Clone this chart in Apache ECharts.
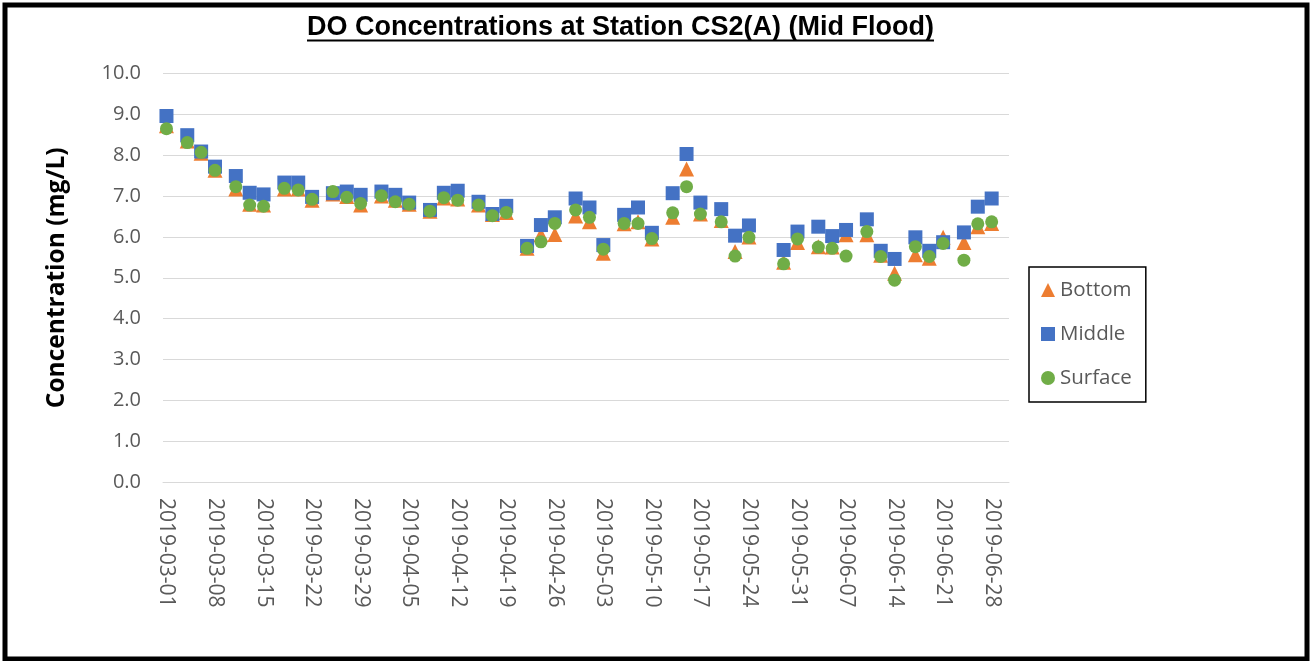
<!DOCTYPE html>
<html>
<head>
<meta charset="utf-8">
<script src="https://cdn.jsdelivr.net/npm/echarts@6/dist/echarts.min.js"></script>
<style>
html,body{margin:0;padding:0;background:#fff;}
#chart{width:1312px;height:661px;}
</style>
</head>
<body>
<div id="chart"></div>
<script>
const titleText = 'DO Concentrations at Station CS2(A) (Mid Flood)';
const yAxisTitle = 'Concentration (mg/L)';
const seriesNames = ['Bottom', 'Middle', 'Surface'];
const axisStart = '2019-03-01';
const axisEnd = '2019-06-30';
const tickLabels = ['2019-03-01','2019-03-08','2019-03-15','2019-03-22','2019-03-29','2019-04-05','2019-04-12','2019-04-19','2019-04-26','2019-05-03','2019-05-10','2019-05-17','2019-05-24','2019-05-31','2019-06-07','2019-06-14','2019-06-21','2019-06-28'];
const dates = ['2019-03-01','2019-03-04','2019-03-06','2019-03-08','2019-03-11','2019-03-13','2019-03-15','2019-03-18','2019-03-20','2019-03-22','2019-03-25','2019-03-27','2019-03-29','2019-04-01','2019-04-03','2019-04-05','2019-04-08','2019-04-10','2019-04-12','2019-04-15','2019-04-17','2019-04-19','2019-04-22','2019-04-24','2019-04-26','2019-04-29','2019-05-01','2019-05-03','2019-05-06','2019-05-08','2019-05-10','2019-05-13','2019-05-15','2019-05-17','2019-05-20','2019-05-22','2019-05-24','2019-05-29','2019-05-31','2019-06-03','2019-06-05','2019-06-07','2019-06-10','2019-06-12','2019-06-14','2019-06-17','2019-06-19','2019-06-21','2019-06-24','2019-06-26','2019-06-28'];
const bottom = [8.72,8.35,8.05,7.63,7.17,6.80,6.78,7.17,7.17,6.90,7.05,6.99,6.78,7.00,6.90,6.80,6.63,6.95,6.93,6.78,6.55,6.60,5.72,6.05,6.06,6.51,6.37,5.60,6.32,6.37,5.95,6.48,7.66,6.56,6.40,5.64,6.00,5.38,5.86,5.76,5.75,6.05,6.05,5.55,5.11,5.56,5.48,5.99,5.86,6.25,6.33];
const middle = [8.96,8.49,8.09,7.72,7.49,7.08,7.04,7.33,7.33,6.98,7.07,7.11,7.03,7.11,7.03,6.84,6.66,7.08,7.13,6.86,6.56,6.76,5.78,6.29,6.48,6.94,6.72,5.80,6.54,6.72,6.10,7.07,8.03,6.84,6.68,6.03,6.28,5.68,6.13,6.25,6.02,6.17,6.43,5.66,5.46,5.99,5.66,5.87,6.11,6.74,6.94];
const surface = [8.65,8.31,8.07,7.63,7.23,6.78,6.75,7.19,7.15,6.92,7.11,6.97,6.82,7.01,6.86,6.80,6.63,6.96,6.90,6.78,6.52,6.60,5.72,5.88,6.33,6.66,6.48,5.70,6.33,6.33,5.96,6.59,7.23,6.56,6.37,5.53,5.99,5.34,5.95,5.75,5.72,5.53,6.13,5.52,4.94,5.76,5.52,5.84,5.43,6.32,6.37];

// daily category axis (one slot per day, like a date axis)
const categories = [];
(function(){
  let d = new Date(axisStart + 'T00:00:00Z');
  const end = new Date(axisEnd + 'T00:00:00Z');
  while (d <= end) {
    categories.push(d.toISOString().slice(0,10));
    d = new Date(d.getTime() + 86400000);
  }
})();

const titleFont = 'bold 27px "Liberation Sans", Arial, sans-serif';
const cvs = document.createElement('canvas').getContext('2d');
cvs.font = titleFont;
const titleW = cvs.measureText(titleText).width;
const titleCx = 620.5;

const chart = echarts.init(document.getElementById('chart'), null, {renderer:'canvas'});
const labelFont = '"Open Sans", sans-serif';
const mk = (name, arr, symbol, color, size) => ({
  name, type:'scatter', symbol, symbolSize:size,
  itemStyle:{color, opacity:1},
  data: dates.map((d,i)=>[d, arr[i]]),
  emphasis:{disabled:true}, animation:false
});
chart.setOption({
  animation:false,
  backgroundColor:'#fff',
  grid:{left:163, right:303, top:73.5, bottom:179, containLabel:false},
  xAxis:{
    type:'category', data:categories, boundaryGap:true,
    axisLine:{show:true, lineStyle:{color:'#d9d9d9', width:1}},
    axisTick:{show:false},
    splitLine:{show:false},
    axisLabel:{
      interval:(idx,val)=>tickLabels.includes(val),
      rotate:-90, margin:16, color:'#595959', fontSize:21, fontFamily:labelFont
    }
  },
  yAxis:{
    type:'value', min:0, max:10, interval:1,
    axisLine:{show:false}, axisTick:{show:false},
    splitLine:{lineStyle:{color:'#d9d9d9', width:1}},
    axisLabel:{formatter:v=>v.toFixed(1), margin:22, color:'#595959', fontSize:20, fontFamily:labelFont},
    name:yAxisTitle, nameLocation:'middle', nameGap:93, nameRotate:90,
    nameTextStyle:{fontSize:24.5, fontWeight:'bold', color:'#000', fontFamily:labelFont}
  },
  legend:{
    orient:'vertical', left:1029, top:267,
    data:[{name:'Bottom', icon:'triangle'},{name:'Middle', icon:'rect'},{name:'Surface', icon:'circle'}],
    itemWidth:14, itemHeight:14, itemGap:20,
    padding:[11,14,12,12],
    borderColor:'#000', borderWidth:1.5,
    textStyle:{color:'#595959', fontSize:20.5, fontFamily:labelFont, lineHeight:24},
    selectedMode:false
  },
  graphic:[
    {type:'rect', shape:{x:5, y:5, width:1302, height:654}, style:{fill:'none', stroke:'#000', lineWidth:5}, z:100},
    {type:'text', x:titleCx, y:28, style:{text:titleText, font:titleFont, fill:'#000', textAlign:'center', textVerticalAlign:'middle'}},
    {type:'line', shape:{x1:titleCx - titleW/2, y1:40.5, x2:titleCx + titleW/2, y2:40.5}, style:{stroke:'#000', lineWidth:2}}
  ],
  series:[
    mk('Bottom', bottom, 'triangle', '#ED7D31', 15),
    mk('Middle', middle, 'rect', '#4472C4', 14),
    mk('Surface', surface, 'circle', '#70AD47', 13)
  ]
});
</script>
</body>
</html>
